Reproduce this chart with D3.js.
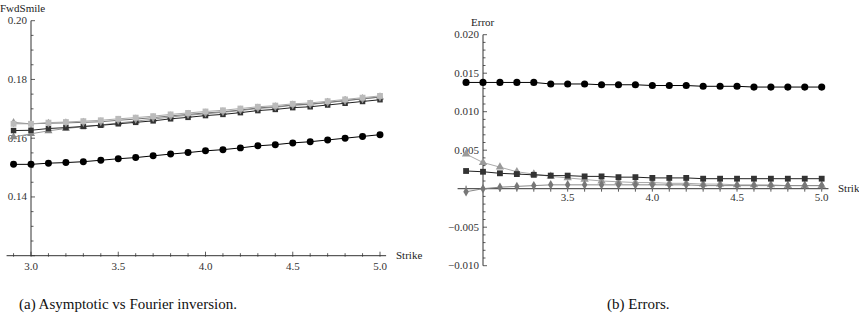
<!DOCTYPE html>
<html>
<head>
<meta charset="utf-8">
<script src="https://cdn.jsdelivr.net/npm/d3@7"></script>
<style>
  body { margin: 0; background: #fff; }
</style>
</head>
<body>
<div class="canva"></div>
<script>
// strikes shared by every series
const strikes = [2.9,3.0,3.1,3.2,3.3,3.4,3.5,3.6,3.7,3.8,3.9,4.0,4.1,4.2,4.3,4.4,4.5,4.6,4.7,4.8,4.9,5.0]

// (a) forward smile
const smileCircle  = [0.1511,0.1511,0.1515,0.1517,0.1520,0.1525,0.1530,0.1534,0.1540,0.1546,0.1551,0.1557,0.1561,0.1567,0.1574,0.1578,0.1584,0.1588,0.1594,0.1600,0.1606,0.1612]
const smileSquare  = [0.1626,0.1627,0.1633,0.1636,0.1640,0.1644,0.1649,0.1654,0.1659,0.1666,0.1671,0.1677,0.1681,0.1687,0.1694,0.1698,0.1704,0.1707,0.1713,0.1719,0.1725,0.1731]
const smileTriangle= [0.1604,0.1615,0.1625,0.1633,0.1639,0.1645,0.1652,0.1658,0.1665,0.1672,0.1678,0.1683,0.1688,0.1694,0.1701,0.1705,0.1712,0.1715,0.1721,0.1728,0.1734,0.1740]
const smileDiamond = [0.1653,0.1649,0.1651,0.1652,0.1654,0.1656,0.1661,0.1665,0.1670,0.1676,0.1681,0.1686,0.1690,0.1696,0.1703,0.1707,0.1713,0.1716,0.1722,0.1728,0.1734,0.1740]
const smileFourier = [0.1649,0.1649,0.1653,0.1655,0.1658,0.1661,0.1666,0.1670,0.1675,0.1681,0.1686,0.1691,0.1695,0.1701,0.1707,0.1711,0.1717,0.1720,0.1726,0.1732,0.1738,0.1744]

// (b) errors
const errCircle   = [0.0138,0.0138,0.0138,0.0138,0.0138,0.0136,0.0136,0.0136,0.0135,0.0135,0.0135,0.0134,0.0134,0.0134,0.0133,0.0133,0.0133,0.0132,0.0132,0.0132,0.0132,0.0132]
const errSquare   = [0.0023,0.0022,0.0020,0.0019,0.0018,0.0017,0.0017,0.0016,0.0016,0.0015,0.0015,0.0014,0.0014,0.0014,0.0013,0.0013,0.0013,0.0013,0.0013,0.0013,0.0013,0.0013]
const errTriangle = [0.0045,0.0034,0.0028,0.0022,0.0019,0.0016,0.0014,0.0012,0.0010,0.0009,0.0008,0.0008,0.0007,0.0007,0.0006,0.0006,0.0005,0.0005,0.0005,0.0004,0.0004,0.0004]
const errDiamond  = [-0.0004,0.0000,0.0002,0.0003,0.0004,0.0005,0.0005,0.0005,0.0005,0.0005,0.0005,0.0005,0.0005,0.0005,0.0004,0.0004,0.0004,0.0004,0.0004,0.0004,0.0004,0.0004]

// tick labels
const smileYTicks = [0.14,0.16,0.18,0.20]
const smileXTicks = [3.0,3.5,4.0,4.5,5.0]
const errYTicks = [-0.010,-0.005,0.005,0.010,0.015,0.020]
const errXTicks = [3.5,4.0,4.5,5.0]

const serif = "'Liberation Serif', 'DejaVu Serif', 'Times New Roman', serif"

const canvas = d3.select('.canva')
const svg = canvas.append('svg')
    .attr('width', 859)
    .attr('height', 322)
    .style('font-family', serif)

const axisColor = '#333'
const fmtMinus = s => s.replace('-', '\u2212')

function symbol(g, type, x, y, fill, size) {
    g.append('path')
        .attr('d', d3.symbol().type(type).size(size)())
        .attr('transform', `translate(${x},${y})`)
        .attr('fill', fill)
}

function drawSeries(g, x, y, vals, lineColor, markType, fill, size) {
    const pts = strikes.map((s, i) => [s, vals[i]])
    g.append('path')
        .datum(pts)
        .attr('fill', 'none')
        .attr('stroke', lineColor)
        .attr('stroke-width', 1)
        .attr('d', d3.line().x(d => x(d[0])).y(d => y(d[1])))
    pts.forEach(d => symbol(g, markType, x(d[0]), y(d[1]), fill, size))
}

function label(g, str, x, y, size, anchor, color) {
    return g.append('text')
        .text(str)
        .attr('x', x)
        .attr('y', y)
        .attr('text-anchor', anchor)
        .attr('font-size', size)
        .attr('font-family', serif)
        .attr('fill', color)
}

function drawAxes(g, x, y, o) {
    // x axis line
    g.append('line')
        .attr('x1', x(o.xFrom)).attr('x2', x(o.xTo))
        .attr('y1', y(o.yZero)).attr('y2', y(o.yZero))
        .attr('stroke', axisColor)
    // y axis line
    g.append('line')
        .attr('x1', x(3.0)).attr('x2', x(3.0))
        .attr('y1', y(o.yMin)).attr('y2', y(o.yMax))
        .attr('stroke', axisColor)
    // x ticks every 0.1
    d3.range(29, 51).forEach(k => {
        const v = k / 10
        const major = k % 5 === 0
        g.append('line')
            .attr('x1', x(v)).attr('x2', x(v))
            .attr('y1', y(o.yZero) + o.xTickDown)
            .attr('y2', y(o.yZero) - (major ? o.xMajor : o.xMinor))
            .attr('stroke', axisColor).attr('stroke-width', 0.8)
    })
    // y ticks
    const n = Math.round((o.yMax - o.yMin) / o.yMinorStep)
    d3.range(0, n + 1).forEach(k => {
        const v = o.yMin + k * o.yMinorStep
        const major = k % o.majorEvery === 0
        g.append('line')
            .attr('x1', x(3.0)).attr('x2', x(3.0) + (major ? 4 : 2.5))
            .attr('y1', y(v)).attr('y2', y(v))
            .attr('stroke', axisColor).attr('stroke-width', 0.8)
    })
    o.yTicks.forEach(v => {
        label(g, fmtMinus(d3.format(o.yFmt)(v)), x(3.0) - 4, y(v) + 3.5, 11, 'end', '#333')
    })
    o.xTicks.forEach(v => {
        label(g, d3.format('.1f')(v), x(v), y(o.yZero) + o.xLabelDy, 11, 'middle', '#333')
    })
    label(g, o.xTitle, o.xTitleX, y(o.yZero) + 3.5, 11, 'start', '#222')
    label(g, o.yTitle, o.yTitleX, o.yTitleY, 11, 'start', '#222')
}

// ---------- (a) ----------
const xa = d3.scaleLinear().domain([3.0, 5.0]).range([31, 380])
const ya = d3.scaleLinear().domain([0.12, 0.20]).range([255.7, 20.7])
const ga = svg.append('g')

drawAxes(ga, xa, ya, {
    xFrom: 2.86, xTo: 5.035, yZero: 0.12, yMin: 0.12, yMax: 0.20,
    yMinorStep: 0.005, majorEvery: 4, yTicks: smileYTicks, yFmt: '.2f',
    xTicks: smileXTicks, xMajor: 4, xMinor: 2.5, xTickDown: 1, xLabelDy: 14,
    xTitle: 'Strike', xTitleX: 396, yTitle: 'FwdSmile', yTitleX: 0, yTitleY: 12
})

drawSeries(ga, xa, ya, smileCircle, '#000', d3.symbolCircle, '#000', 38)
drawSeries(ga, xa, ya, smileTriangle, '#999', d3.symbolTriangle, '#888', 28)
drawSeries(ga, xa, ya, smileSquare, '#222', d3.symbolSquare, '#333', 30)
drawSeries(ga, xa, ya, smileDiamond, '#777', d3.symbolDiamond, '#999', 24)
drawSeries(ga, xa, ya, smileFourier, '#aaa', d3.symbolSquare, '#bbb', 34)

// ---------- (b) ----------
const xb = d3.scaleLinear().domain([3.0, 5.0]).range([483, 821.7])
const yb = d3.scaleLinear().domain([-0.010, 0.020]).range([265.7, 34.7])
const gb = svg.append('g')

drawAxes(gb, xb, yb, {
    xFrom: 2.85, xTo: 5.04, yZero: 0, yMin: -0.010, yMax: 0.020,
    yMinorStep: 0.001, majorEvery: 5, yTicks: errYTicks, yFmt: '.3f',
    xTicks: errXTicks, xMajor: 3, xMinor: 3, xTickDown: 3, xLabelDy: 12,
    xTitle: 'Strike', xTitleX: 838, yTitle: 'Error', yTitleX: 471, yTitleY: 26
})

drawSeries(gb, xb, yb, errCircle, '#000', d3.symbolCircle, '#000', 40)
drawSeries(gb, xb, yb, errTriangle, '#aaa', d3.symbolTriangle, '#999', 30)
drawSeries(gb, xb, yb, errDiamond, '#888', d3.symbolDiamond, '#777', 26)
drawSeries(gb, xb, yb, errSquare, '#222', d3.symbolSquare, '#333', 34)

// captions
label(svg, '(a) Asymptotic vs Fourier inversion.', 19, 309, 15, 'start', '#111')
label(svg, '(b) Errors.', 607, 309, 15, 'start', '#111')
</script>
</body>
</html>
